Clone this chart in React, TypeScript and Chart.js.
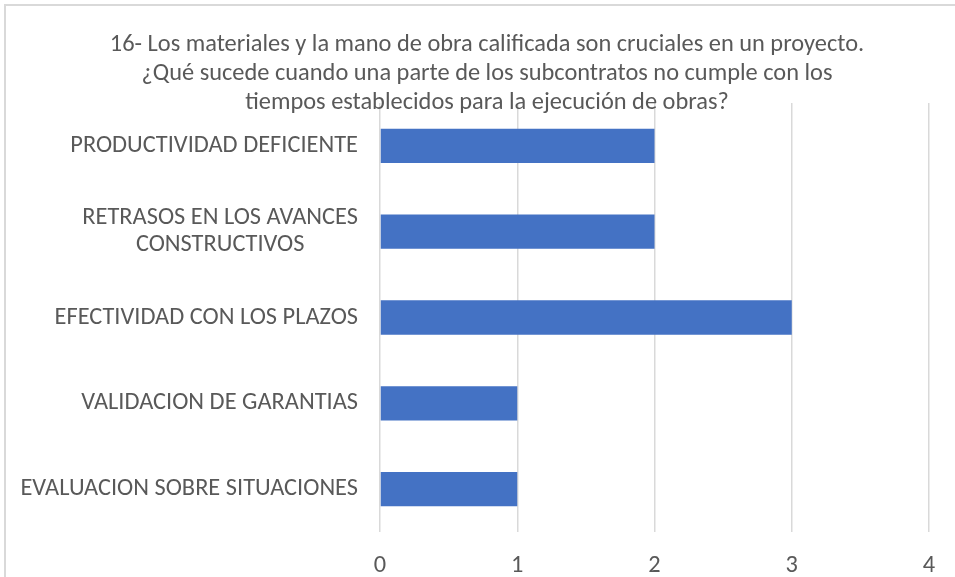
import React, { useEffect, useRef } from "react";
import { Chart, registerables } from "chart.js";

Chart.register(...registerables);

const categories: string[][] = [
  ["PRODUCTIVIDAD DEFICIENTE"],
  ["RETRASOS EN LOS AVANCES", "CONSTRUCTIVOS"],
  ["EFECTIVIDAD CON LOS PLAZOS"],
  ["VALIDACION DE GARANTIAS"],
  ["EVALUACION SOBRE SITUACIONES"],
];
const values: number[] = [2, 2, 3, 1, 1];
const titleLines: string[] = [
  "16- Los materiales y la mano de obra calificada son cruciales en un proyecto.",
  "¿Qué sucede cuando una parte de los subcontratos no cumple con los",
  "tiempos establecidos para la ejecución de obras?",
];
const xMin = 0;
const xMax = 4;

const FONT = "Carlito, 'Liberation Sans', sans-serif";
const FONT_SIZE = 24.4;
const TEXT_COLOR = "#595959";
const GRID_COLOR = "#d9d9d9";
const BAR_COLOR = "#4472C4";

export default function App() {
  const ref = useRef<HTMLCanvasElement>(null);
  useEffect(() => {
    document.body.style.margin = "0";
    const canvas = ref.current!;

    const frameAndTitle = {
      id: "frameAndTitle",
      beforeDraw(chart: any) {
        const ctx = chart.ctx;
        ctx.save();
        ctx.fillStyle = "#ffffff";
        ctx.fillRect(0, 0, chart.width, chart.height);
        ctx.strokeStyle = GRID_COLOR;
        ctx.lineWidth = 2;
        ctx.strokeRect(5, 5, 1200, 1200);
        ctx.restore();
      },
      afterDraw(chart: any) {
        const ctx = chart.ctx;
        ctx.save();
        ctx.fillStyle = TEXT_COLOR;
        ctx.font = `${FONT_SIZE}px ${FONT}`;
        ctx.textAlign = "center";
        ctx.textBaseline = "middle";
        titleLines.forEach((line, i) => {
          ctx.fillText(line, 487, 45 + i * 29);
        });
        // y-axis category labels: block right-aligned, lines centered within block
        const yScale = chart.scales.y;
        const right = yScale.right - 22;
        categories.forEach((lines, i) => {
          const yc = yScale.getPixelForValue(i);
          const widths = lines.map((l) => ctx.measureText(l).width);
          const blockW = Math.max(...widths);
          const cx = right - blockW / 2;
          const lh = 27;
          lines.forEach((l, j) => {
            const y = yc + (j - (lines.length - 1) / 2) * lh;
            ctx.fillText(l, cx, y);
          });
        });
        ctx.restore();
      },
    };

    const chart = new Chart(canvas, {
      type: "bar",
      data: {
        labels: categories.map((c) => c.join(" ")),
        datasets: [
          {
            data: values,
            backgroundColor: BAR_COLOR,
            borderWidth: 0,
            barPercentage: 0.4,
            categoryPercentage: 1,
          },
        ],
      },
      options: {
        indexAxis: "y",
        animation: false,
        responsive: false,
        layout: { padding: { top: 103, right: 26, left: 0, bottom: 0 } },
        plugins: {
          legend: { display: false },
          title: { display: false },
          tooltip: { enabled: false },
        },
        scales: {
          x: {
            min: xMin,
            max: xMax,
            ticks: {
              stepSize: 1,
              color: TEXT_COLOR,
              font: { family: FONT, size: FONT_SIZE },
              padding: 19,
            },
            grid: { color: GRID_COLOR, lineWidth: 1.5, drawTicks: false },
            border: { display: false },
            afterFit(scale: any) {
              scale.height = 45;
            },
          },
          y: {
            ticks: { display: false },
            grid: { display: false },
            border: { display: false },
            afterFit(scale: any) {
              scale.width = 380;
            },
          },
        },
      },
      plugins: [frameAndTitle],
    });
    return () => chart.destroy();
  }, []);
  return <canvas ref={ref} width={955} height={577} style={{ display: "block" }} />;
}
